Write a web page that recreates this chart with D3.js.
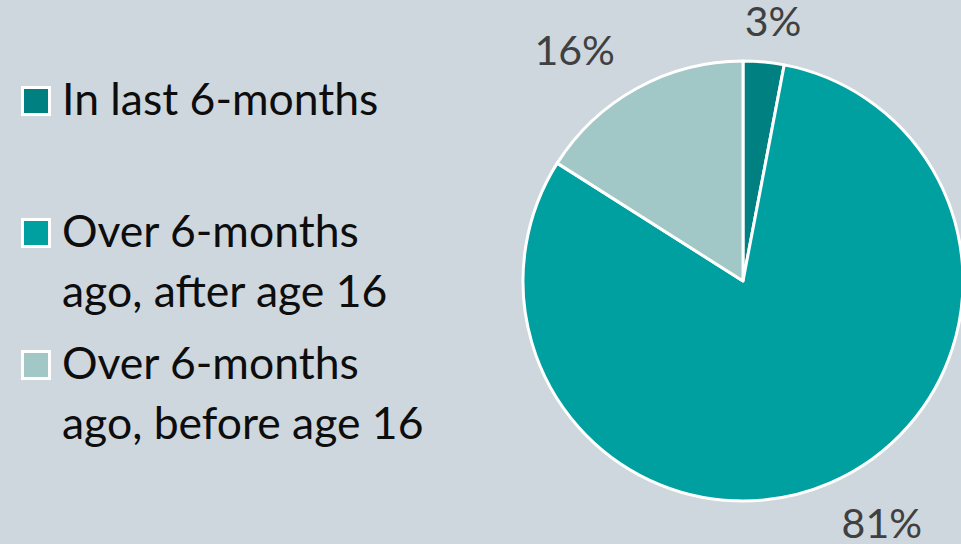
<!DOCTYPE html>
<html>
<head>
<meta charset="utf-8">
<script src="https://cdn.jsdelivr.net/npm/d3@7"></script>
<style>
  html, body { margin: 0; padding: 0; background: #ced7dd; }
  svg { display: block; }
</style>
</head>
<body>
<div id="chart"></div>
<script>
var categories = ["In last 6-months", "Over 6-months ago, after age 16", "Over 6-months ago, before age 16"];
var legendLines = [["In last 6-months"], ["Over 6-months", "ago, after age 16"], ["Over 6-months", "ago, before age 16"]];
var values = [3, 81, 16];
var colors = ["#008080", "#009fa0", "#a1c7c7"];

var width = 961, height = 544;
var cx = 743, cy = 281, radius = 220;
var fontFam = "Lato, 'Open Sans', sans-serif";

var svg = d3.select("#chart")
    .append("svg")
    .attr("width", width)
    .attr("height", height);

svg.append("rect")
    .attr("width", width)
    .attr("height", height)
    .attr("fill", "#ced7dd");

var pie = d3.pie().sort(null).value(function (d) { return d; });
var arc = d3.arc().innerRadius(0).outerRadius(radius);
var arcs = pie(values);

var g = svg.append("g")
    .attr("transform", "translate(" + cx + "," + cy + ")");

g.selectAll("path")
    .data(arcs)
    .enter()
    .append("path")
    .attr("d", arc)
    .attr("fill", function (d, i) { return colors[i]; })
    .attr("stroke", "#fff")
    .attr("stroke-width", 3)
    .attr("stroke-linejoin", "round");

// labels outside the slices
var labelR = 245;
g.selectAll("text.lbl")
    .data(arcs)
    .enter()
    .append("text")
    .attr("class", "lbl")
    .attr("font-family", fontFam)
    .attr("font-size", 41)
    .attr("fill", "#404040")
    .attr("text-anchor", "middle")
    .attr("dominant-baseline", "central")
    .text(function (d) { return d.value + "%"; })
    .each(function (d) {
        var a = (d.startAngle + d.endAngle) / 2;
        var s = Math.sin(a), c = Math.cos(a);
        var bb = this.getBBox();
        var hw = bb.width / 2 * 1.3, hh = 17;
        var kx = Math.max(-1, Math.min(1, s * 2));
        var ky = Math.max(-1, Math.min(1, c * 2));
        var x = labelR * s + hw * kx;
        var y = -labelR * c - hh * ky;
        d3.select(this).attr("x", x).attr("y", y);
    });

// legend
var legendTop = [101, 233, 365];
var lineH = 60;
var leg = svg.append("g");

legendLines.forEach(function (lines, i) {
    var y0 = legendTop[i];
    leg.append("rect")
        .attr("x", 22.5)
        .attr("y", y0 - 13.5)
        .attr("width", 27)
        .attr("height", 27)
        .attr("fill", colors[i])
        .attr("stroke", "#fff")
        .attr("stroke-width", 3);
    lines.forEach(function (t, j) {
        leg.append("text")
            .attr("x", 62)
            .attr("y", y0 + 14 + j * lineH)
            .attr("font-family", fontFam)
            .attr("font-size", 44.5)
            .attr("fill", "#0d0d0d")
            .text(t);
    });
});
</script>
</body>
</html>
